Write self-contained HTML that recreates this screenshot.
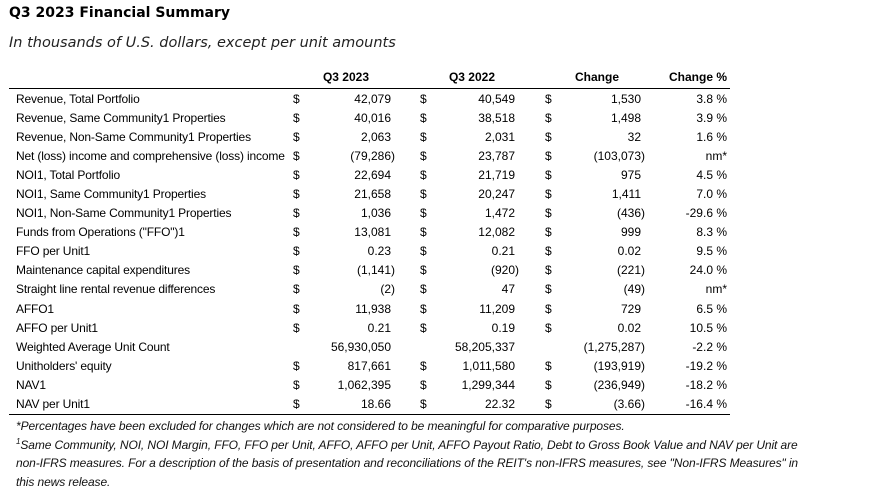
<!DOCTYPE html>
<html><head><meta charset="utf-8"><style>
body{margin:0;background:#fff;width:876px;height:496px;overflow:hidden;position:relative;color:#000}
.t{position:absolute;left:9px;top:5px;font:bold 14px "DejaVu Sans",sans-serif}
.s{position:absolute;left:9px;top:35px;font:italic 14.5px "DejaVu Sans",sans-serif;color:#222}
table{position:absolute;left:9px;top:66px;border-collapse:collapse;font:12px "Liberation Sans",Arial,sans-serif;table-layout:fixed;width:721px}
td{padding:0;height:19.1px;white-space:nowrap;overflow:visible}
td.l{letter-spacing:-0.15px}
tr.h td{height:22px;font-weight:bold;text-align:right;border-bottom:1.5px solid #000;vertical-align:middle}
tr.last td{border-bottom:1.5px solid #000}
td.l{padding-left:7px}
td.d1{padding-left:5px}td.d2{padding-left:25px}td.d3{padding-left:26px}
td.v{text-align:right;padding-right:4px}
td.v.p{padding-right:0}
td.c{text-align:right;padding-right:3px}
.f{position:absolute;left:16px;top:417px;width:800px;font:italic 12px "Liberation Sans Narrow","Liberation Sans",sans-serif;line-height:18.7px;color:#111;letter-spacing:-0.1px}
sup{font-size:8px;line-height:0}
</style></head><body>
<div class="t">Q3 2023 Financial Summary</div>
<div class="s">In thousands of U.S. dollars, except per unit amounts</div>
<table>
<colgroup><col style="width:279px"><col style="width:22px"><col style="width:85px"><col style="width:37px"><col style="width:87px"><col style="width:38px"><col style="width:88px"><col style="width:85px"></colgroup>
<tr class="h"><td></td><td></td><td style="padding-right:26px">Q3 2023</td><td></td><td style="padding-right:24px">Q3 2022</td><td></td><td style="padding-right:26px">Change</td><td style="padding-right:3px">Change %</td></tr>
<tr><td class="l">Revenue, Total Portfolio</td><td class="d1">$</td><td class="v">42,079</td><td class="d2">$</td><td class="v">40,549</td><td class="d3">$</td><td class="v">1,530</td><td class="c">3.8 %</td></tr>
<tr><td class="l">Revenue, Same Community1 Properties</td><td class="d1">$</td><td class="v">40,016</td><td class="d2">$</td><td class="v">38,518</td><td class="d3">$</td><td class="v">1,498</td><td class="c">3.9 %</td></tr>
<tr><td class="l">Revenue, Non-Same Community1 Properties</td><td class="d1">$</td><td class="v">2,063</td><td class="d2">$</td><td class="v">2,031</td><td class="d3">$</td><td class="v">32</td><td class="c">1.6 %</td></tr>
<tr><td class="l">Net (loss) income and comprehensive (loss) income</td><td class="d1">$</td><td class="v p">(79,286)</td><td class="d2">$</td><td class="v">23,787</td><td class="d3">$</td><td class="v p">(103,073)</td><td class="c">nm*</td></tr>
<tr><td class="l">NOI1, Total Portfolio</td><td class="d1">$</td><td class="v">22,694</td><td class="d2">$</td><td class="v">21,719</td><td class="d3">$</td><td class="v">975</td><td class="c">4.5 %</td></tr>
<tr><td class="l">NOI1, Same Community1 Properties</td><td class="d1">$</td><td class="v">21,658</td><td class="d2">$</td><td class="v">20,247</td><td class="d3">$</td><td class="v">1,411</td><td class="c">7.0 %</td></tr>
<tr><td class="l">NOI1, Non-Same Community1 Properties</td><td class="d1">$</td><td class="v">1,036</td><td class="d2">$</td><td class="v">1,472</td><td class="d3">$</td><td class="v p">(436)</td><td class="c">-29.6 %</td></tr>
<tr><td class="l">Funds from Operations ("FFO")1</td><td class="d1">$</td><td class="v">13,081</td><td class="d2">$</td><td class="v">12,082</td><td class="d3">$</td><td class="v">999</td><td class="c">8.3 %</td></tr>
<tr><td class="l">FFO per Unit1</td><td class="d1">$</td><td class="v">0.23</td><td class="d2">$</td><td class="v">0.21</td><td class="d3">$</td><td class="v">0.02</td><td class="c">9.5 %</td></tr>
<tr><td class="l">Maintenance capital expenditures</td><td class="d1">$</td><td class="v p">(1,141)</td><td class="d2">$</td><td class="v p">(920)</td><td class="d3">$</td><td class="v p">(221)</td><td class="c">24.0 %</td></tr>
<tr><td class="l">Straight line rental revenue differences</td><td class="d1">$</td><td class="v p">(2)</td><td class="d2">$</td><td class="v">47</td><td class="d3">$</td><td class="v p">(49)</td><td class="c">nm*</td></tr>
<tr><td class="l">AFFO1</td><td class="d1">$</td><td class="v">11,938</td><td class="d2">$</td><td class="v">11,209</td><td class="d3">$</td><td class="v">729</td><td class="c">6.5 %</td></tr>
<tr><td class="l">AFFO per Unit1</td><td class="d1">$</td><td class="v">0.21</td><td class="d2">$</td><td class="v">0.19</td><td class="d3">$</td><td class="v">0.02</td><td class="c">10.5 %</td></tr>
<tr><td class="l">Weighted Average Unit Count</td><td class="d1"></td><td class="v">56,930,050</td><td class="d2"></td><td class="v">58,205,337</td><td class="d3"></td><td class="v p">(1,275,287)</td><td class="c">-2.2 %</td></tr>
<tr><td class="l">Unitholders' equity</td><td class="d1">$</td><td class="v">817,661</td><td class="d2">$</td><td class="v">1,011,580</td><td class="d3">$</td><td class="v p">(193,919)</td><td class="c">-19.2 %</td></tr>
<tr><td class="l">NAV1</td><td class="d1">$</td><td class="v">1,062,395</td><td class="d2">$</td><td class="v">1,299,344</td><td class="d3">$</td><td class="v p">(236,949)</td><td class="c">-18.2 %</td></tr>
<tr class="last"><td class="l">NAV per Unit1</td><td class="d1">$</td><td class="v">18.66</td><td class="d2">$</td><td class="v">22.32</td><td class="d3">$</td><td class="v p">(3.66)</td><td class="c">-16.4 %</td></tr>
</table>
<div class="f">*Percentages have been excluded for changes which are not considered to be meaningful for comparative purposes.<br><sup>1</sup>Same Community, NOI, NOI Margin, FFO, FFO per Unit, AFFO, AFFO per Unit, AFFO Payout Ratio, Debt to Gross Book Value and NAV per Unit are non-IFRS measures. For a description of the basis of presentation and reconciliations of the REIT's non-IFRS measures, see "Non-IFRS Measures" in this news release.</div>
</body></html>
